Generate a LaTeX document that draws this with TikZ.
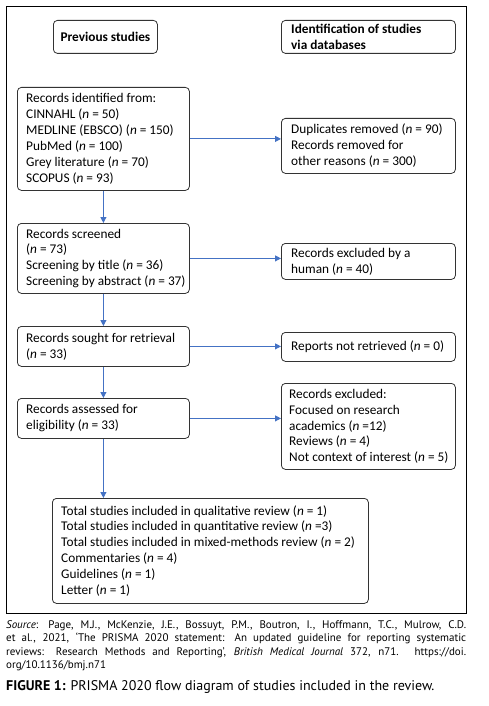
\documentclass[tikz,border=0pt]{standalone}
\usepackage{fontspec}
\setmainfont{Carlito}
\newfontfamily\capfont{PT Sans}
\usetikzlibrary{arrows.meta}
\definecolor{arrowblue}{HTML}{4472C4}
\tikzset{
  box/.style={draw=black!80, line width=0.8pt, rounded corners=4pt, anchor=north west, inner sep=0pt},
  txt/.style={anchor=west, inner sep=0pt, align=left, font=\fontsize{13.3}{15.9}\selectfont},
  flow/.style={draw=arrowblue, line width=0.9pt, -{Triangle[length=6pt,width=6pt]}}
}
\begin{document}
\begin{tikzpicture}[x=1pt,y=-1pt]
\useasboundingbox (0,0) rectangle (488,706);
\fill[white] (0,0) rectangle (488,706);
\draw[line width=1pt] (6,7) rectangle (466,613);
% headers
\node[box, minimum width=104, minimum height=33] (prev) at (53,20) {};
\node[txt, anchor=center, font=\fontsize{13.3}{16}\selectfont\bfseries] (prevt) at (prev.center) {Previous studies};
\node[box, minimum width=174, minimum height=33] (ident) at (281,20) {};
\node[txt, font=\fontsize{13.3}{16}\selectfont\bfseries] (identt) at ([xshift=10pt]ident.west) {Identification of studies\\via databases};
% left column
\node[box, minimum width=172, minimum height=103] (rec) at (17,87) {};
\node[txt] (rect) at ([xshift=9pt]rec.west) {Records identified from:\\CINNAHL (\textit{n} = 50)\\MEDLINE (EBSCO) (\textit{n} = 150)\\PubMed (\textit{n} = 100)\\Grey literature (\textit{n} = 70)\\SCOPUS (\textit{n} = 93)};
\node[box, minimum width=172, minimum height=70] (scr) at (17,223) {};
\node[txt] (scrt) at ([xshift=9pt]scr.west) {Records screened\\(\textit{n} = 73)\\Screening by title (\textit{n} = 36)\\Screening by abstract (\textit{n} = 37)};
\node[box, minimum width=172, minimum height=40] (sought) at (17,326) {};
\node[txt] (soughtt) at ([xshift=9pt]sought.west) {Records sought for retrieval\\(\textit{n} = 33)};
\node[box, minimum width=172, minimum height=40] (assess) at (17,398) {};
\node[txt] (assesst) at ([xshift=9pt]assess.west) {Records assessed for\\eligibility (\textit{n} = 33)};
% right column
\node[box, minimum width=174, minimum height=55] (dup) at (281,118) {};
\node[txt] (dupt) at ([xshift=10pt]dup.west) {Duplicates removed (\textit{n} = 90)\\Records removed for\\other reasons (\textit{n} = 300)};
\node[box, minimum width=174, minimum height=36] (human) at (281,243) {};
\node[txt] (humant) at ([xshift=10pt]human.west) {Records excluded by a\\human (\textit{n} = 40)};
\node[box, minimum width=174, minimum height=29] (notret) at (281,332) {};
\node[txt] (notrett) at ([xshift=10pt]notret.west) {Reports not retrieved (\textit{n} = 0)};
\node[box, minimum width=174, minimum height=86] (excl) at (281,383) {};
\node[txt] (exclt) at ([xshift=8pt]excl.west) {Records excluded:\\Focused on research\\academics (\textit{n} =12)\\Reviews (\textit{n} = 4)\\Not context of interest (\textit{n} = 5)};
% final
\node[box, minimum width=316, minimum height=105] (final) at (52,498) {};
\node[txt] (finalt) at ([xshift=9pt]final.west) {Total studies included in qualitative review (\textit{n} = 1)\\Total studies included in quantitative review (\textit{n} =3)\\Total studies included in mixed-methods review (\textit{n} = 2)\\Commentaries (\textit{n} = 4)\\Guidelines (\textit{n} = 1)\\Letter (\textit{n} = 1)};
% connectors
\draw[flow] (rec.east) -- (rec.east -| dup.west);
\draw[flow] (rec.south) -- (scr.north);
\draw[flow] (scr.east) -- (scr.east -| human.west);
\draw[flow] (scr.south) -- (sought.north);
\draw[flow] (sought.east) -- (sought.east -| notret.west);
\draw[flow] (sought.south) -- (assess.north);
\draw[flow] (assess.east) -- (assess.east -| excl.west);
\draw[flow] (assess.south) -- (assess.south |- final.north);
% caption
\node[anchor=north west, inner sep=0pt, text width=460, align=justify, font=\capfont\fontsize{11}{13.6}\selectfont] (src) at (6,620) {\textit{Source}: Page, M.J., McKenzie, J.E., Bossuyt, P.M., Boutron, I., Hoffmann, T.C., Mulrow, C.D.\linebreak et al., 2021, ‘The PRISMA 2020 statement: An updated guideline for reporting systematic\linebreak reviews: Research Methods and Reporting’, \textit{British Medical Journal} 372, n71. https://doi.\linebreak org/10.1136/bmj.n71};
\node[anchor=north west, inner sep=0pt, font=\capfont\fontsize{14}{15}\selectfont] (fig) at (6,680) {\textbf{FIGURE 1:} PRISMA 2020 flow diagram of studies included in the review.};
\end{tikzpicture}
\end{document}
